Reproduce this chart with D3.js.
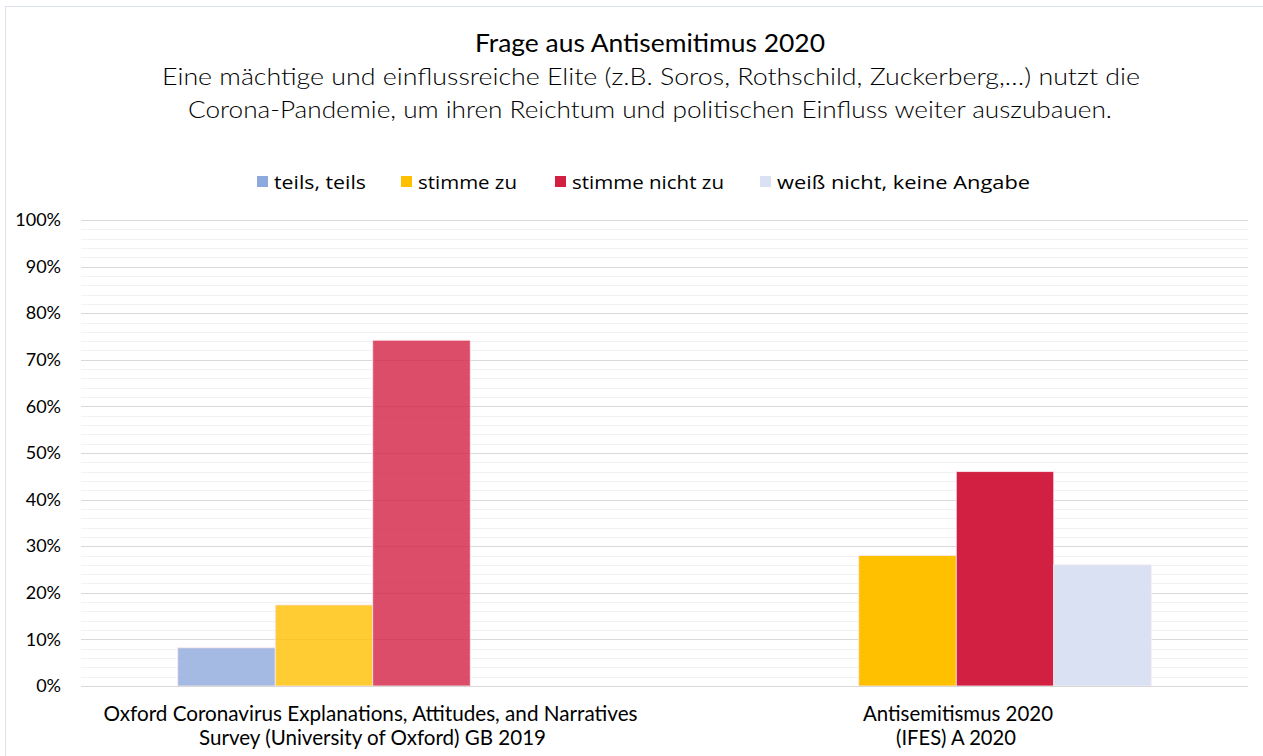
<!DOCTYPE html>
<html>
<head>
<meta charset="utf-8">
<script src="https://cdn.jsdelivr.net/npm/d3@7"></script>
<style>
  html, body { margin: 0; padding: 0; background: #fff; }
  svg { display: block; }
</style>
</head>
<body>
<svg id="chart" width="1263" height="756"></svg>
<script>
// Survey sources (x categories), split over two lines each
const categories = [
  ["Oxford Coronavirus Explanations, Attitudes, and Narratives", "Survey (University of Oxford) GB 2019"],
  ["Antisemitismus 2020", "(IFES) A 2020"]
];
// Answer options (series)
const seriesNames = ["teils, teils", "stimme zu", "stimme nicht zu", "weiß nicht, keine Angabe"];
const seriesColors = ["#8EA9DB", "#FFC000", "#D22043", "#D9E1F2"];
// Share of respondents per series, one value per category (null = not asked)
const teilsTeils   = [8.2, null];
const stimmeZu     = [17.4, 28.0];
const stimmeNicht  = [74.2, 46.0];
const weissNicht   = [null, 26.0];
// Fill opacity of the bars per category
const categoryOpacity = [0.8, 1];
// Y axis ticks
const yTicks = [0, 10, 20, 30, 40, 50, 60, 70, 80, 90, 100];

const seriesValues = [teilsTeils, stimmeZu, stimmeNicht, weissNicht];

const svg = d3.select("#chart");
const W = 1263, H = 756;
const plot = { left: 81, right: 1248, top: 220, bottom: 686 };

// outer chart frame
svg.append("rect")
  .attr("x", 5.5).attr("y", 6.5)
  .attr("width", W + 10).attr("height", H + 10)
  .attr("fill", "none").attr("stroke", "#dde3ea").attr("stroke-width", 1);

const x0 = d3.scaleBand()
  .domain(d3.range(categories.length))
  .range([plot.left, plot.right])
  .paddingInner(0).paddingOuter(0);

const groupWidth = 390;
const x1 = d3.scaleBand()
  .domain(d3.range(seriesNames.length))
  .range([0, groupWidth]);

const y = d3.scaleLinear().domain([0, 100]).range([plot.bottom, plot.top]);

// minor grid every 2 %
const minor = d3.range(0, 101, 2).filter(v => v % 10 !== 0);
svg.append("g").selectAll("line").data(minor).join("line")
  .attr("x1", plot.left).attr("x2", plot.right)
  .attr("y1", d => Math.round(y(d)) + 0.5).attr("y2", d => Math.round(y(d)) + 0.5)
  .attr("stroke", "#f2f2f2").attr("stroke-width", 1);

// major grid every 10 %
svg.append("g").selectAll("line").data(yTicks).join("line")
  .attr("x1", plot.left).attr("x2", plot.right)
  .attr("y1", d => Math.round(y(d)) + 0.5).attr("y2", d => Math.round(y(d)) + 0.5)
  .attr("stroke", "#d9d9d9").attr("stroke-width", 1);

// y axis labels
const yAxis = d3.axisLeft(y).tickValues(yTicks).tickFormat(d => d + "%").tickSize(0).tickPadding(20);
const yg = svg.append("g").attr("transform", `translate(${plot.left},0)`).call(yAxis);
yg.select(".domain").remove();
yg.selectAll("text")
  .attr("font-family", "'Lato', 'Open Sans', sans-serif")
  .attr("font-size", 18).attr("fill", "#000");

// bars
const flat = [];
categories.forEach((c, ci) => {
  seriesValues.forEach((vals, si) => {
    if (vals[ci] != null) flat.push({ ci, si, v: vals[ci] });
  });
});
svg.append("g").selectAll("rect").data(flat).join("rect")
  .attr("x", d => x0(d.ci) + (x0.bandwidth() - groupWidth) / 2 + x1(d.si))
  .attr("width", x1.bandwidth())
  .attr("y", d => y(d.v))
  .attr("height", d => y(0) - y(d.v))
  .attr("fill", d => seriesColors[d.si])
  .attr("fill-opacity", d => categoryOpacity[d.ci])
  .attr("stroke", "#fbe9ee").attr("stroke-width", 0.8);

// x axis line
svg.append("line")
  .attr("x1", plot.left).attr("x2", plot.right)
  .attr("y1", Math.round(y(0)) + 0.5).attr("y2", Math.round(y(0)) + 0.5)
  .attr("stroke", "#d9d9d9");

// category labels (condensed to their set widths)
const labelWidths = [[534, 347], [190, 120]];
const labelCenters = [[370.5, 372.5], [958, 956]];
const xl = svg.append("g");
categories.forEach((lines, ci) => {
  lines.forEach((ln, li) => {
    xl.append("text")
      .attr("x", labelCenters[ci][li]).attr("y", 721 + li * 24)
      .attr("text-anchor", "middle")
      .attr("font-family", "'Lato', 'Open Sans', sans-serif")
      .attr("font-size", 21).attr("fill", "#000")
      .attr("textLength", labelWidths[ci][li]).attr("lengthAdjust", "spacingAndGlyphs")
      .text(ln);
  });
});

// title block
const tf = "'Lato', 'Open Sans', sans-serif";
svg.append("text").attr("x", 650).attr("y", 52).attr("text-anchor", "middle")
  .attr("font-family", tf).attr("font-size", 25).attr("fill", "#000")
  .attr("textLength", 350).attr("lengthAdjust", "spacingAndGlyphs")
  .text("Frage aus Antisemitimus 2020");
svg.append("text").attr("x", 651).attr("y", 85).attr("text-anchor", "middle")
  .attr("font-family", tf).attr("font-size", 23).attr("font-weight", 300).attr("fill", "#000")
  .attr("textLength", 978).attr("lengthAdjust", "spacingAndGlyphs")
  .text("Eine mächtige und einflussreiche Elite (z.B. Soros, Rothschild, Zuckerberg,…) nutzt die");
svg.append("text").attr("x", 650).attr("y", 118).attr("text-anchor", "middle")
  .attr("font-family", tf).attr("font-size", 23).attr("font-weight", 300).attr("fill", "#000")
  .attr("textLength", 924).attr("lengthAdjust", "spacingAndGlyphs")
  .text("Corona-Pandemie, um ihren Reichtum und politischen Einfluss weiter auszubauen.");

// legend
const legendX = [257, 401, 555, 760];
const legendW = [92, 99, 152, 253];
const lg = svg.append("g");
seriesNames.forEach((name, i) => {
  lg.append("rect").attr("x", legendX[i]).attr("y", 176)
    .attr("width", 11).attr("height", 11).attr("fill", seriesColors[i]);
  lg.append("text").attr("x", legendX[i] + 17).attr("y", 189)
    .attr("font-family", "'Open Sans', 'Noto Sans', sans-serif")
    .attr("font-size", 19).attr("fill", "#000")
    .attr("textLength", legendW[i]).attr("lengthAdjust", "spacingAndGlyphs")
    .text(name);
});
</script>
</body>
</html>
